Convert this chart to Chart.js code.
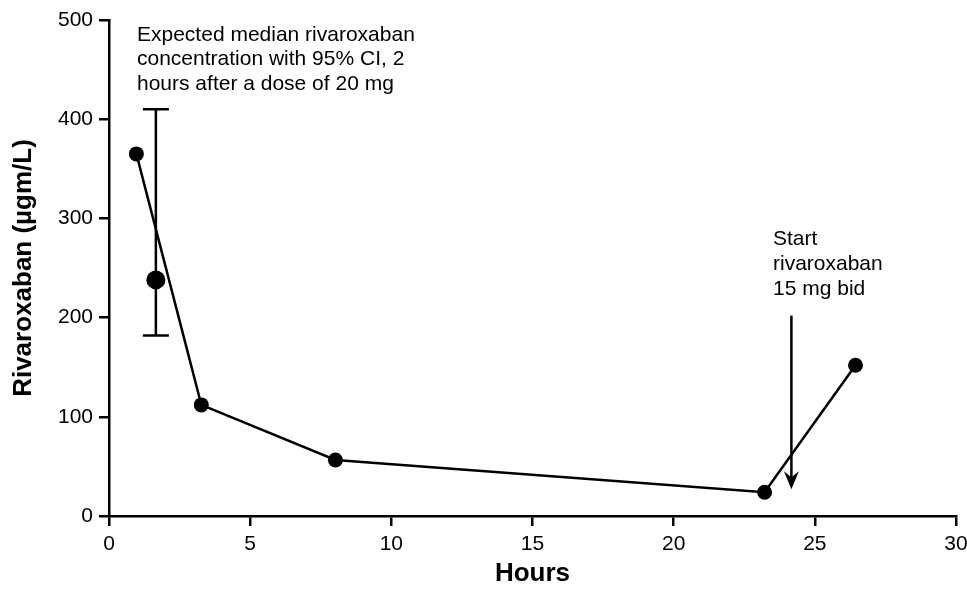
<!DOCTYPE html>
<html>
<head>
<meta charset="utf-8">
<script src="https://cdn.jsdelivr.net/npm/chart.js@4.4.0/dist/chart.umd.min.js"></script>
<style>
  body { margin: 0; background: #fff; }
  #wrap { width: 967px; height: 590px; }
</style>
</head>
<body>
<div id="wrap"><canvas id="chart" width="967" height="590"></canvas></div>
<script>
// measured concentrations
const hours = [0.97, 3.27, 8.02, 23.22, 26.44];
const conc = [365, 112, 56.5, 24, 152];

// expected median at 2 h after 20 mg, with 95% CI
const medianHour = [1.66];
const medianConc = [238];
const ciLow = [182];
const ciHigh = [410];

// "start 15 mg bid" arrow
const arrowHour = 24.17;
const arrowFrom = 202;
const arrowTo = 27;

const xTicks = [0, 5, 10, 15, 20, 25, 30];
const yTicks = [0, 100, 200, 300, 400, 500];

const FONT = '"Liberation Sans", Arial, Helvetica, sans-serif';

const extras = {
    id: 'extras',
    beforeDatasetsDraw(chart) {
        const ctx = chart.ctx;
        const xs = chart.scales.x, ys = chart.scales.y;
        ctx.save();
        ctx.strokeStyle = '#000';
        ctx.fillStyle = '#000';
        ctx.lineWidth = 2.5;

        // error bar
        medianHour.forEach((h, i) => {
            const px = xs.getPixelForValue(h);
            const top = ys.getPixelForValue(ciHigh[i]);
            const bot = ys.getPixelForValue(ciLow[i]);
            ctx.beginPath();
            ctx.moveTo(px, top); ctx.lineTo(px, bot);
            ctx.moveTo(px - 13, top); ctx.lineTo(px + 13, top);
            ctx.moveTo(px - 13, bot); ctx.lineTo(px + 13, bot);
            ctx.stroke();
        });

        // arrow
        const ax = xs.getPixelForValue(arrowHour);
        const a0 = ys.getPixelForValue(arrowFrom);
        const a1 = ys.getPixelForValue(arrowTo);
        ctx.beginPath();
        ctx.moveTo(ax, a0); ctx.lineTo(ax, a1 - 10);
        ctx.stroke();
        ctx.beginPath();
        ctx.moveTo(ax, a1);
        ctx.lineTo(ax - 7.5, a1 - 18);
        ctx.lineTo(ax, a1 - 12);
        ctx.lineTo(ax + 7.5, a1 - 18);
        ctx.closePath();
        ctx.fill();

        // text notes
        ctx.font = '21px ' + FONT;
        ctx.textBaseline = 'alphabetic';
        ctx.textAlign = 'left';
        const note = ['Expected median rivaroxaban', 'concentration with 95% CI, 2', 'hours after a dose of 20 mg'];
        note.forEach((t, i) => ctx.fillText(t, 137, 40.5 + i * 24.7));
        const start = ['Start', 'rivaroxaban', '15 mg bid'];
        start.forEach((t, i) => ctx.fillText(t, 773, 245 + i * 25));
        ctx.restore();
    }
};

new Chart(document.getElementById('chart'), {
    type: 'scatter',
    data: {
        datasets: [
            {
                data: hours.map((h, i) => ({ x: h, y: conc[i] })),
                showLine: true,
                borderColor: '#000',
                borderWidth: 2.5,
                backgroundColor: '#000',
                pointRadius: 7.5,
                pointBorderWidth: 0,
                pointBackgroundColor: '#000'
            },
            {
                data: medianHour.map((h, i) => ({ x: h, y: medianConc[i] })),
                pointRadius: 9.5,
                pointBorderWidth: 0,
                pointBackgroundColor: '#000',
                backgroundColor: '#000'
            }
        ]
    },
    options: {
        responsive: false,
        animation: false,
        layout: { padding: { top: 20, right: 11, left: 0, bottom: 0 } },
        plugins: { legend: { display: false }, tooltip: { enabled: false } },
        scales: {
            x: {
                type: 'linear',
                min: 0, max: 30,
                afterBuildTicks: s => { s.ticks = xTicks.map(v => ({ value: v })); },
                afterFit: s => { s.height = 74; s.paddingLeft = 0; s.paddingRight = 0; },
                ticks: { color: '#000', font: { family: FONT, size: 21 }, padding: 6, maxRotation: 0 },
                grid: { drawOnChartArea: false, drawTicks: true, tickLength: 10, color: '#000', lineWidth: 2.5 },
                border: { display: true, color: '#000', width: 2.5 },
                title: { display: true, text: 'Hours', color: '#000', font: { family: FONT, size: 26, weight: 'bold' }, padding: { top: 0, bottom: 1 } }
            },
            y: {
                type: 'linear',
                min: 0, max: 500,
                afterBuildTicks: s => { s.ticks = yTicks.map(v => ({ value: v })); },
                afterFit: s => { s.width = 109; s.paddingTop = 0; s.paddingBottom = 0; },
                ticks: { color: '#000', font: { family: FONT, size: 21 }, padding: 6 },
                grid: { drawOnChartArea: false, drawTicks: true, tickLength: 10, color: '#000', lineWidth: 2.5 },
                border: { display: true, color: '#000', width: 2.5 },
                title: { display: true, text: 'Rivaroxaban (µgm/L)', color: '#000', font: { family: FONT, size: 26, weight: 'bold' }, padding: { top: 8, bottom: 0 } }
            }
        }
    },
    plugins: [extras]
});
</script>
</body>
</html>
